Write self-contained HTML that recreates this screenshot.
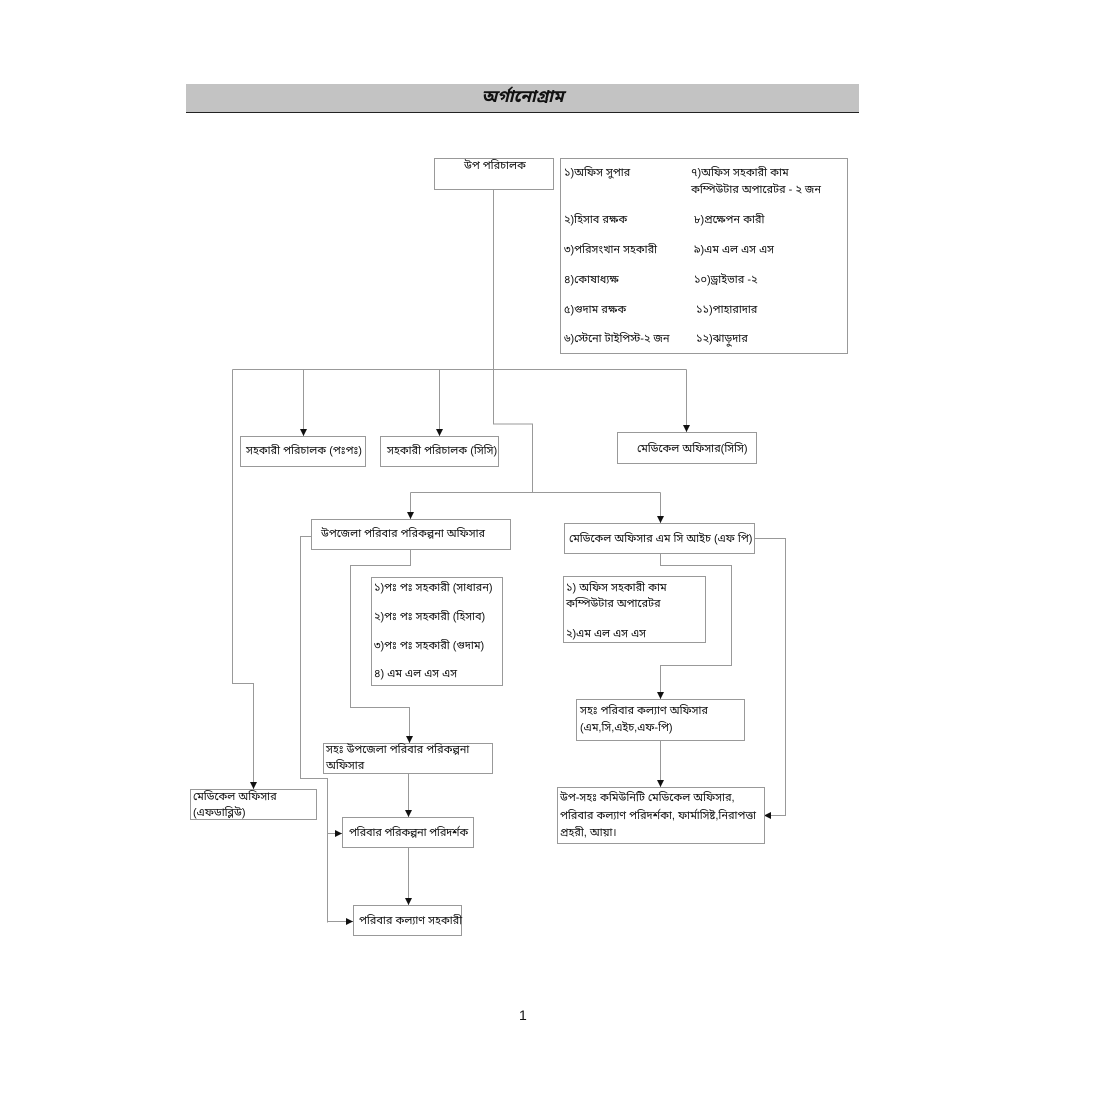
<!DOCTYPE html>
<html>
<head>
<meta charset="utf-8">
<style>
  html,body{margin:0;padding:0;background:#fff;}
  body{width:1100px;height:1100px;position:relative;overflow:hidden;
       font-family:"Liberation Sans","Noto Sans Bengali","Lohit Bengali","FreeSans",sans-serif;color:#111;}
  .bar{position:absolute;left:186px;top:84px;width:673px;height:28px;background:#c3c3c3;border-bottom:1px solid #222;}
  .title{position:absolute;left:186px;top:86px;width:673px;text-align:center;font-size:17px;font-weight:bold;font-style:italic;line-height:22px;}
  .box{position:absolute;border:1px solid #999;background:#fff;box-sizing:border-box;font-size:11px;line-height:14px;white-space:nowrap;}
  .t{position:absolute;font-size:11px;line-height:14px;white-space:nowrap;}
  svg{position:absolute;left:0;top:0;}
  .pg{position:absolute;left:519px;top:1007px;font-size:14px;}
</style>
</head>
<body>
<div class="bar"></div>
<div class="title">অর্গানোগ্রাম</div>

<svg width="1100" height="1100" viewBox="0 0 1100 1100">
  <defs>
    <marker id="a" viewBox="0 0 10 10" refX="10" refY="5" markerWidth="7" markerHeight="7" orient="auto" markerUnits="userSpaceOnUse">
      <path d="M0,0 L10,5 L0,10 z" fill="#111"/>
    </marker>
  </defs>
  <g stroke="#999" stroke-width="1" fill="none">
    <polyline points="493.5,189 493.5,424 532.5,424 532.5,492.5"/>
    <line x1="232.5" y1="369.5" x2="686.5" y2="369.5"/>
    <line x1="303.5" y1="369.5" x2="303.5" y2="436" marker-end="url(#a)"/>
    <line x1="439.5" y1="369.5" x2="439.5" y2="436" marker-end="url(#a)"/>
    <line x1="686.5" y1="369.5" x2="686.5" y2="432" marker-end="url(#a)"/>
    <polyline points="232.5,369.5 232.5,683.5 253.5,683.5 253.5,789" marker-end="url(#a)"/>
    <line x1="410.5" y1="492.5" x2="660.5" y2="492.5"/>
    <line x1="410.5" y1="492.5" x2="410.5" y2="519" marker-end="url(#a)"/>
    <line x1="660.5" y1="492.5" x2="660.5" y2="523" marker-end="url(#a)"/>
    <polyline points="311,536.5 300.5,536.5 300.5,778.5 327.5,778.5 327.5,922.5"/>
    <line x1="327.5" y1="833.5" x2="342" y2="833.5" marker-end="url(#a)"/>
    <line x1="327.5" y1="921.5" x2="353" y2="921.5" marker-end="url(#a)"/>
    <polyline points="410.5,549 410.5,565.5 350.5,565.5 350.5,707.5 409.5,707.5 409.5,743" marker-end="url(#a)"/>
    <line x1="408.5" y1="773" x2="408.5" y2="817" marker-end="url(#a)"/>
    <line x1="408.5" y1="848" x2="408.5" y2="905" marker-end="url(#a)"/>
    <polyline points="755,538.5 785.5,538.5 785.5,815.5 764,815.5" marker-end="url(#a)"/>
    <polyline points="660.5,553 660.5,565.5 731.5,565.5 731.5,665.5 660.5,665.5 660.5,699" marker-end="url(#a)"/>
    <line x1="660.5" y1="740" x2="660.5" y2="787" marker-end="url(#a)"/>
  </g>
</svg>

<div class="box" style="left:434px;top:158px;width:120px;height:32px;">
  <span class="t" style="left:29px;top:0px;">উপ পরিচালক</span>
</div>

<div class="box" style="left:560px;top:158px;width:288px;height:196px;">
  <span class="t" style="left:3px;top:7px;">১)অফিস সুপার</span>
  <span class="t" style="left:130px;top:7px;">৭)অফিস সহকারী কাম</span>
  <span class="t" style="left:130px;top:24px;">কম্পিউটার অপারেটর - ২ জন</span>
  <span class="t" style="left:3px;top:54px;">২)হিসাব রক্ষক</span>
  <span class="t" style="left:133px;top:54px;">৮)প্রক্ষেপন কারী</span>
  <span class="t" style="left:3px;top:84px;">৩)পরিসংখান সহকারী</span>
  <span class="t" style="left:133px;top:84px;">৯)এম এল এস এস</span>
  <span class="t" style="left:3px;top:114px;">৪)কোষাধ্যক্ষ</span>
  <span class="t" style="left:133px;top:114px;">১০)ড্রাইভার -২</span>
  <span class="t" style="left:3px;top:144px;">৫)গুদাম রক্ষক</span>
  <span class="t" style="left:135px;top:144px;">১১)পাহারাদার</span>
  <span class="t" style="left:3px;top:173px;">৬)স্টেনো টাইপিস্ট-২ জন</span>
  <span class="t" style="left:135px;top:173px;">১২)ঝাড়ুদার</span>
</div>

<div class="box" style="left:240px;top:436px;width:126px;height:31px;">
  <span class="t" style="left:5px;top:7px;">সহকারী পরিচালক (পঃপঃ)</span>
</div>
<div class="box" style="left:380px;top:436px;width:119px;height:31px;">
  <span class="t" style="left:6px;top:7px;">সহকারী পরিচালক (সিসি)</span>
</div>
<div class="box" style="left:617px;top:432px;width:140px;height:32px;">
  <span class="t" style="left:19px;top:9px;">মেডিকেল অফিসার(সিসি)</span>
</div>

<div class="box" style="left:311px;top:519px;width:200px;height:31px;">
  <span class="t" style="left:9px;top:7px;">উপজেলা পরিবার পরিকল্পনা অফিসার</span>
</div>

<div class="box" style="left:371px;top:577px;width:132px;height:109px;">
  <span class="t" style="left:2px;top:3px;">১)পঃ পঃ সহকারী (সাধারন)</span>
  <span class="t" style="left:2px;top:32px;">২)পঃ পঃ সহকারী (হিসাব)</span>
  <span class="t" style="left:2px;top:61px;">৩)পঃ পঃ সহকারী (গুদাম)</span>
  <span class="t" style="left:2px;top:89px;">৪) এম এল এস এস</span>
</div>

<div class="box" style="left:323px;top:743px;width:170px;height:31px;">
  <span class="t" style="left:2px;top:-1px;">সহঃ উপজেলা পরিবার পরিকল্পনা</span>
  <span class="t" style="left:2px;top:15px;">অফিসার</span>
</div>

<div class="box" style="left:190px;top:789px;width:127px;height:31px;">
  <span class="t" style="left:2px;top:0px;">মেডিকেল অফিসার</span>
  <span class="t" style="left:2px;top:16px;">(এফডাব্লিউ)</span>
</div>

<div class="box" style="left:342px;top:817px;width:132px;height:31px;">
  <span class="t" style="left:6px;top:8px;letter-spacing:-0.2px;">পরিবার পরিকল্পনা পরিদর্শক</span>
</div>

<div class="box" style="left:353px;top:905px;width:109px;height:31px;">
  <span class="t" style="left:5px;top:8px;">পরিবার কল্যাণ সহকারী</span>
</div>

<div class="box" style="left:564px;top:523px;width:191px;height:31px;">
  <span class="t" style="left:4px;top:8px;">মেডিকেল অফিসার এম সি আইচ (এফ পি)</span>
</div>

<div class="box" style="left:563px;top:576px;width:143px;height:67px;">
  <span class="t" style="left:2px;top:4px;">১) অফিস সহকারী কাম</span>
  <span class="t" style="left:2px;top:20px;">কম্পিউটার অপারেটর</span>
  <span class="t" style="left:2px;top:50px;">২)এম এল এস এস</span>
</div>

<div class="box" style="left:576px;top:699px;width:169px;height:42px;">
  <span class="t" style="left:3px;top:4px;">সহঃ পরিবার কল্যাণ অফিসার</span>
  <span class="t" style="left:3px;top:21px;">(এম,সি,এইচ,এফ-পি)</span>
</div>

<div class="box" style="left:557px;top:787px;width:208px;height:57px;">
  <span class="t" style="left:2px;top:3px;">উপ-সহঃ কমিউনিটি মেডিকেল অফিসার,</span>
  <span class="t" style="left:2px;top:21px;">পরিবার কল্যাণ পরিদর্শকা, ফার্মাসিষ্ট,নিরাপত্তা</span>
  <span class="t" style="left:2px;top:38px;">প্রহরী, আয়া।</span>
</div>

<div class="pg">1</div>
</body>
</html>
